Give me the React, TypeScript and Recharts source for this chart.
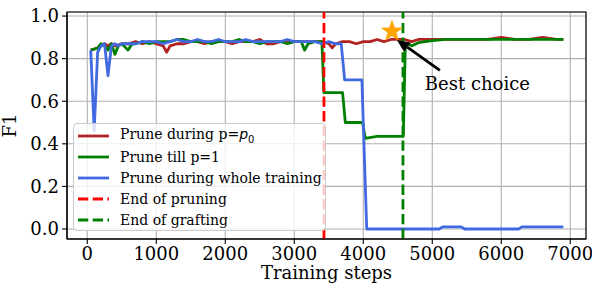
import { ComposedChart, Line, XAxis, YAxis, CartesianGrid, ReferenceLine, ReferenceDot, ReferenceArea } from 'recharts'

// [training step, F1]
const pruneP0: [number, number][] = [
  [50,0.84],[150,0.85],[200,0.86],[250,0.87],[300,0.86],[350,0.87],[400,0.86],[500,0.87],[600,0.87],[700,0.88],
  [800,0.87],[900,0.88],[1000,0.87],[1100,0.86],[1150,0.83],[1200,0.86],[1300,0.87],[1400,0.87],[1500,0.88],[1600,0.88],
  [1700,0.87],[1800,0.88],[1900,0.88],[2000,0.88],[2100,0.87],[2200,0.88],[2300,0.88],[2400,0.88],[2500,0.89],[2600,0.87],
  [2700,0.87],[2800,0.88],[2900,0.88],[3000,0.88],[3100,0.88],[3200,0.88],[3300,0.88],[3400,0.88],[3500,0.87],[3550,0.85],
  [3600,0.87],[3700,0.88],[3800,0.88],[3900,0.87],[4000,0.88],[4100,0.88],[4200,0.89],[4300,0.88],[4400,0.89],[4500,0.89],
  [4600,0.89],[4700,0.88],[4800,0.89],[4900,0.89],[5000,0.89],[5200,0.89],[5400,0.89],[5600,0.89],[5800,0.89],[6000,0.9],
  [6200,0.89],[6400,0.89],[6600,0.9],[6800,0.89],[6900,0.89],
]

const pruneTillOne: [number, number][] = [
  [50,0.84],[150,0.85],[200,0.87],[250,0.86],[300,0.84],[350,0.87],[400,0.82],[450,0.86],[500,0.87],[590,0.84],
  [650,0.87],[700,0.87],[800,0.88],[900,0.87],[1000,0.88],[1100,0.88],[1200,0.88],[1300,0.89],[1400,0.89],[1500,0.88],
  [1600,0.88],[1700,0.88],[1800,0.87],[1900,0.88],[2000,0.88],[2100,0.88],[2200,0.89],[2300,0.88],[2400,0.88],[2500,0.87],
  [2600,0.88],[2700,0.88],[2800,0.88],[2900,0.87],[3000,0.88],[3100,0.88],[3150,0.84],[3200,0.87],[3300,0.88],[3400,0.88],
  [3430,0.64],[3700,0.64],[3740,0.5],[3990,0.5],[4030,0.425],[4200,0.435],[4580,0.435],[4610,0.87],[4650,0.87],[4700,0.86],
  [4800,0.875],[4900,0.88],[5000,0.885],[5200,0.89],[5400,0.89],[5600,0.89],[5800,0.89],[6000,0.89],[6200,0.89],[6400,0.89],
  [6600,0.89],[6800,0.89],[6900,0.89],
]

const pruneWhole: [number, number][] = [
  [50,0.84],[100,0.46],[150,0.83],[200,0.86],[250,0.87],[300,0.72],[350,0.86],[400,0.87],[450,0.86],[500,0.87],
  [600,0.87],[700,0.87],[800,0.88],[900,0.88],[1000,0.88],[1100,0.87],[1200,0.88],[1300,0.89],[1400,0.88],[1500,0.88],
  [1600,0.89],[1700,0.88],[1800,0.88],[1900,0.89],[2000,0.88],[2100,0.88],[2200,0.88],[2300,0.89],[2400,0.88],[2500,0.88],
  [2600,0.88],[2700,0.88],[2800,0.88],[2900,0.89],[3000,0.88],[3100,0.88],[3200,0.88],[3300,0.88],[3400,0.87],[3500,0.88],
  [3600,0.87],[3680,0.87],[3730,0.7],[3980,0.7],[4050,0],[5100,0],[5150,0.01],[5420,0.01],[5470,0],[6250,0],
  [6300,0.01],[6900,0.01],
]

const endOfPruning = 3430
const endOfGrafting = 4575
const bestChoice = { step: 4416, f1: 0.928 }
const arrowFrom = { step: 5110, f1: 0.745 }
const arrowTo = { step: 4484, f1: 0.889 }

const stepTicks = [0, 1000, 2000, 3000, 4000, 5000, 6000, 7000]
const f1Ticks = [0, 0.2, 0.4, 0.6, 0.8, 1.0]
const stepDomain: [number, number] = [-294, 7228]
const f1Domain: [number, number] = [-0.047, 1.019]

const FONT = 'DejaVu Serif'
const toRows = (d: [number, number][]) => d.map(([x, y]) => ({ x, y }))

const legendItems = [
  { key: 'p0', color: '#b22222', dashed: false },
  { key: 'till', color: '#008000', dashed: false },
  { key: 'whole', color: '#4169e1', dashed: false },
  { key: 'prun', color: '#ff0000', dashed: true },
  { key: 'graft', color: '#008000', dashed: true },
]

function legendLabel(key: string) {
  if (key === 'p0') return <>Prune during p=<span style={{ fontFamily: 'DejaVu Sans', fontStyle: 'italic' }}>p</span><sub style={{ fontSize: 10, fontFamily: 'DejaVu Sans' }}>0</sub></>
  if (key === 'till') return 'Prune till p=1'
  if (key === 'whole') return 'Prune during whole training'
  if (key === 'prun') return 'End of pruning'
  return 'End of grafting'
}

function Star(props: any) {
  const { cx, cy } = props
  const pts: string[] = []
  for (let i = 0; i < 10; i++) {
    const r = i % 2 === 0 ? 11 : 4.4
    const a = -Math.PI / 2 + (i * Math.PI) / 5
    pts.push(`${cx + r * Math.cos(a)},${cy + r * Math.sin(a)}`)
  }
  return <polygon points={pts.join(' ')} fill="#ffa500" stroke="#ffa500" strokeWidth={0.5} />
}

function Arrow(props: any) {
  const { x1, y1, x2, y2 } = props
  const dx = x2 - x1, dy = y2 - y1
  const len = Math.sqrt(dx * dx + dy * dy)
  const ux = dx / len, uy = dy / len
  const hl = 13, hw = 5.5
  const bx = x2 - ux * hl, by = y2 - uy * hl
  return (
    <g>
      <line x1={x1} y1={y1} x2={bx} y2={by} stroke="#000" strokeWidth={2.8} />
      <polygon points={`${x2},${y2} ${bx - uy * hw},${by + ux * hw} ${bx + uy * hw},${by - ux * hw}`} fill="#000" />
      <text x={x1 - 15} y={y1 + 20} fontFamily={FONT} fontSize={18} fill="#000">Best choice</text>
    </g>
  )
}

export default function App() {
  return (
    <div style={{ position: 'relative', width: 592, height: 285, background: '#fff' }}>
      <style>{'body{margin:0}'}</style>
      <ComposedChart width={592} height={285} margin={{ top: 12, right: 6, bottom: 6, left: 0 }}>
        <CartesianGrid stroke="#b0b0b0" strokeWidth={1.1} />
        <XAxis type="number" dataKey="x" domain={stepDomain} ticks={stepTicks} allowDataOverflow height={40}
          tick={{ fill: '#000', fontSize: 18, fontFamily: FONT }} tickSize={5} tickMargin={3}
          tickLine={{ stroke: '#000', strokeWidth: 1.1 }} axisLine={{ stroke: '#000', strokeWidth: 1.1 }}
          label={{ value: 'Training steps', position: 'insideBottom', offset: 0, fill: '#000', fontSize: 18, fontFamily: FONT }} />
        <YAxis type="number" dataKey="y" domain={f1Domain} ticks={f1Ticks} allowDataOverflow width={67}
          tickFormatter={(v: number) => v.toFixed(1)}
          tick={{ fill: '#000', fontSize: 18, fontFamily: FONT }} tickSize={5} tickMargin={3}
          tickLine={{ stroke: '#000', strokeWidth: 1.1 }} axisLine={{ stroke: '#000', strokeWidth: 1.1 }}
          label={{ value: 'F1', angle: -90, position: 'insideLeft', offset: 10, fill: '#000', fontSize: 18, fontFamily: FONT, style: { textAnchor: 'middle' } }} />
        <Line data={toRows(pruneP0)} dataKey="y" stroke="#b22222" strokeWidth={2.8} dot={false} isAnimationActive={false} strokeLinejoin="round" />
        <Line data={toRows(pruneTillOne)} dataKey="y" stroke="#008000" strokeWidth={2.8} dot={false} isAnimationActive={false} strokeLinejoin="round" />
        <Line data={toRows(pruneWhole)} dataKey="y" stroke="#4169e1" strokeWidth={2.8} dot={false} isAnimationActive={false} strokeLinejoin="round" />
        <ReferenceLine x={endOfPruning} stroke="#ff0000" strokeWidth={2.8} strokeDasharray="10.3 4.4" />
        <ReferenceLine x={endOfGrafting} stroke="#008000" strokeWidth={2.8} strokeDasharray="10.3 4.4" />
        <ReferenceDot x={bestChoice.step} y={bestChoice.f1} r={11} shape={Star} />
        <ReferenceLine segment={[{ x: arrowFrom.step, y: arrowFrom.f1 }, { x: arrowTo.step, y: arrowTo.f1 }]} shape={Arrow} />
        <ReferenceArea x1={stepDomain[0]} x2={stepDomain[1]} y1={f1Domain[0]} y2={f1Domain[1]} fill="none" stroke="#000" strokeWidth={1.1} fillOpacity={0} />
      </ComposedChart>
      <div style={{
        position: 'absolute', left: 73, top: 123, width: 253, height: 108, boxSizing: 'border-box',
        background: 'rgba(255,255,255,0.8)', border: '1px solid #cccccc', borderRadius: 4,
        fontFamily: FONT, fontSize: 14, color: '#000', paddingTop: 2,
      }}>
        {legendItems.map(it => (
          <div key={it.key} style={{ display: 'flex', alignItems: 'center', height: 20.8, whiteSpace: 'nowrap' }}>
            <svg width={46} height={10} style={{ flex: 'none' }}>
              <line x1={4} y1={5} x2={35} y2={5} stroke={it.color} strokeWidth={2.8} strokeDasharray={it.dashed ? '10.3 4.4' : undefined} />
            </svg>
            <span style={{ lineHeight: '16px' }}>{legendLabel(it.key)}</span>
          </div>
        ))}
      </div>
    </div>
  )
}
